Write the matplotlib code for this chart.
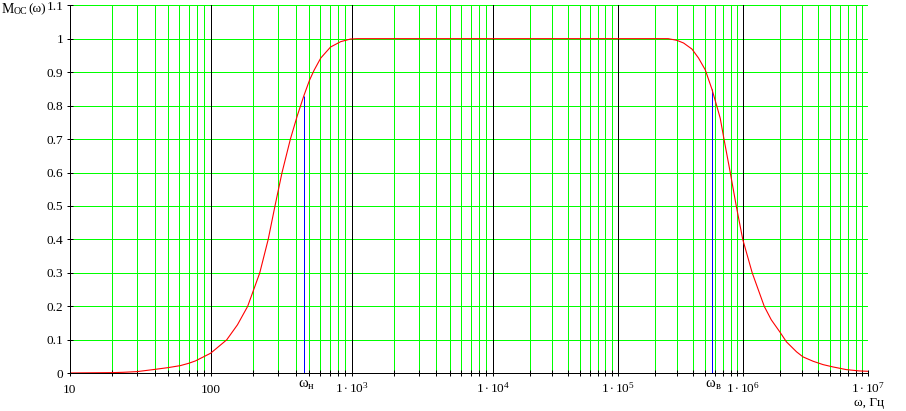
import numpy as np
import matplotlib
matplotlib.use('Agg')
import matplotlib.pyplot as plt
from matplotlib.ticker import FixedLocator, NullFormatter
import matplotlib.transforms as mtransforms

plt.rcParams['font.family'] = ['Liberation Serif', 'DejaVu Serif']
plt.rcParams['mathtext.fontset'] = 'custom'
plt.rcParams['mathtext.rm'] = 'Liberation Serif'
plt.rcParams['mathtext.it'] = 'Liberation Serif:italic'

# amplitude response
omega = [10, 20, 24, 30, 39, 50, 61, 70, 78, 100, 130, 155, 183, 223, 256,
         286, 321, 368, 412, 459, 503, 541, 604, 709, 836, 984, 1.1e3,
         2.54e5, 2.98e5, 3.37e5, 3.93e5, 4.44e5, 5.02e5, 5.68e5, 6.23e5,
         6.62e5, 7.09e5, 7.96e5, 8.89e5, 1.002e6, 1.193e6, 1.489e6, 1.693e6,
         1.98e6, 2.24e6, 2.7e6, 3.04e6, 3.66e6, 4.39e6, 5.28e6, 6.75e6,
         8.62e6, 1e7]
m_oc = [0.001, 0.002, 0.003, 0.005, 0.011, 0.017, 0.023, 0.03, 0.037, 0.06,
        0.1, 0.145, 0.2, 0.3, 0.4, 0.5, 0.6, 0.7, 0.77, 0.83, 0.876, 0.905,
        0.942, 0.975, 0.991, 0.999, 1.0,
        1.0, 0.995, 0.987, 0.969, 0.942, 0.907, 0.849, 0.797,
        0.762, 0.7, 0.6, 0.5, 0.4, 0.3, 0.2, 0.16,
        0.124, 0.094, 0.064, 0.049, 0.036, 0.026, 0.019, 0.011,
        0.007, 0.006]

# cut-off markers
w_n, m_n = 459, 0.83
w_v, m_v = 5.66e5, 0.849

decades = [10, 100, 1e3, 1e4, 1e5, 1e6, 1e7]
dec_labels = ['10', '100', r'$1\cdot10^{3}$', r'$1\cdot10^{4}$',
              r'$1\cdot10^{5}$', r'$1\cdot10^{6}$', r'$1\cdot10^{7}$']
black_decades = [100, 1e3, 1e4, 1e5, 1e6]
minors = [k * d for d in decades[:-1] for k in range(2, 10)]
y_ticks = [0, 0.1, 0.2, 0.3, 0.4, 0.5, 0.6, 0.7, 0.8, 0.9, 1.0, 1.1]
y_labels = ['0', '0.1', '0.2', '0.3', '0.4', '0.5', '0.6', '0.7', '0.8',
            '0.9', '1', '1.1']

# the screenshot has wider decades on the left than on the right
W1, W2 = 141.0, 125.1


def fwd(x):
    with np.errstate(all='ignore'):
        L = np.log10(np.maximum(np.asarray(x, dtype=float), 1e-300))
        return np.where(L <= 4, (L - 1) * W1, 3 * W1 + (L - 4) * W2)


def inv(p):
    with np.errstate(all='ignore'):
        p = np.asarray(p, dtype=float)
        return np.where(p <= 3 * W1, 10 ** (p / W1 + 1),
                        10 ** ((p - 3 * W1) / W2 + 4))


FW, FH = 906, 411
fig = plt.figure(figsize=(FW / 100, FH / 100), dpi=100)
ax = fig.add_axes([69.7 / FW, (FH - 373.3) / FH, 798 / FW, 368.1 / FH])
ax.set_xscale('function', functions=(fwd, inv))
ax.set_xlim(10, 1e7)
ax.set_ylim(0, 1.1)

green = '#00ff00'
lw = 0.72
for y in y_ticks[1:]:
    ax.axhline(y, color=green, lw=lw, zorder=1)
for x in minors + [1e7]:
    ax.axvline(x, color=green, lw=lw, zorder=1)
for x in black_decades:
    ax.axvline(x, color='black', lw=lw, zorder=2)

ax.vlines([w_n, w_v], 0, [m_n, m_v], color='#0000ff', lw=lw, zorder=3)
ax.plot(omega, m_oc, color='#ff0000', lw=0.8, zorder=4)

for s in ['top', 'right']:
    ax.spines[s].set_visible(False)
for s in ['left', 'bottom']:
    ax.spines[s].set_linewidth(lw)
    ax.spines[s].set_zorder(5)

ax.xaxis.set_major_locator(FixedLocator(decades))
ax.xaxis.set_minor_locator(FixedLocator(minors))
ax.xaxis.set_major_formatter(NullFormatter())
ax.xaxis.set_minor_formatter(NullFormatter())
ax.tick_params(axis='x', which='both', direction='inout', length=5,
               width=lw, color='black')
ax.set_yticks(y_ticks)
ax.set_yticklabels(y_labels)
ax.tick_params(axis='y', direction='inout', length=5, width=lw,
               color='black', pad=2, labelsize=9.5)

trans = mtransforms.blended_transform_factory(ax.transData, fig.transFigure)


def px(p):
    return p / FW


def py(p):
    return (FH - p) / FH


for x, lab in zip(decades, dec_labels):
    ax.text(x, py(393), lab, transform=trans, ha='center', va='baseline',
            fontsize=9.5)

fig.text(px(298), py(387), 'ω', ha='left', va='baseline', fontsize=10.5)
fig.text(px(308), py(389), 'н', ha='left', va='baseline', fontsize=7.5)
fig.text(px(705), py(387), 'ω', ha='left', va='baseline', fontsize=10.5)
fig.text(px(716), py(389), 'в', ha='left', va='baseline', fontsize=7.5)
fig.text(px(869), py(406), 'ω, Гц', ha='center', va='baseline', fontsize=9.5)

fig.text(px(2), py(12.7), 'M', ha='left', va='baseline', fontsize=10)
fig.text(px(13.5), py(13.5), 'ОС', ha='left', va='baseline', fontsize=7)
fig.text(px(28), py(12.7), '(ω)', ha='left', va='baseline', fontsize=9.5)

fig.savefig('out.png', dpi=100)
